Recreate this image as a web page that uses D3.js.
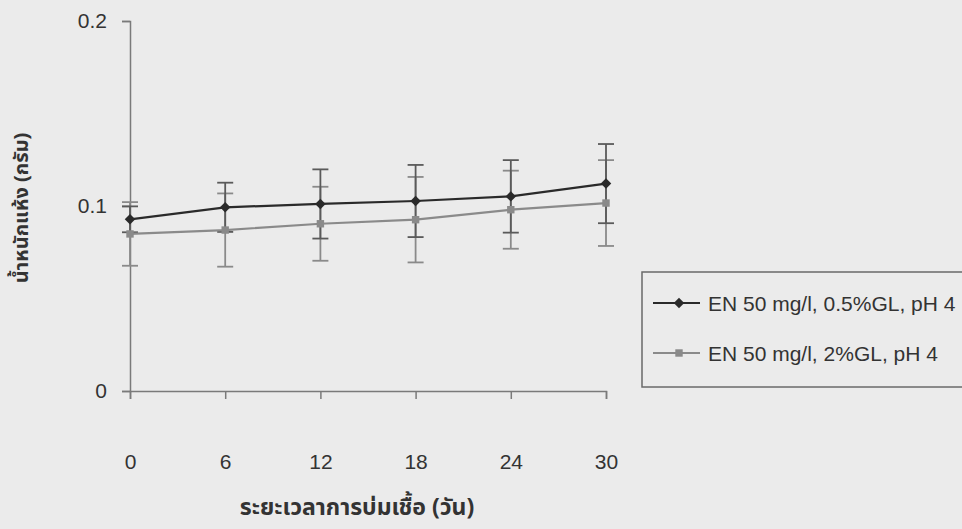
<!DOCTYPE html>
<html>
<head>
<meta charset="utf-8">
<script src="https://cdn.jsdelivr.net/npm/d3@7"></script>
<style>
  body { margin: 0; background: #ebebeb; }
  svg { display: block; }
  text { font-family: Arial, "Liberation Sans", sans-serif; fill: #333; }
</style>
</head>
<body>
<svg id="chart" width="962" height="529"></svg>
<script>
// incubation days
let days = [0, 6, 12, 18, 24, 30];

// dry weight (g), EN 50 mg/l, 0.5%GL, pH 4
let s1_mean = [0.0928, 0.0993, 0.1011, 0.1027, 0.1052, 0.1121];
let s1_err = [0.0070, 0.0133, 0.0187, 0.0195, 0.0196, 0.0214];

// dry weight (g), EN 50 mg/l, 2%GL, pH 4
let s2_mean = [0.0849, 0.0870, 0.0904, 0.0926, 0.0980, 0.1016];
let s2_err = [0.0172, 0.0198, 0.0200, 0.0231, 0.0211, 0.0232];

let y_ticks = [0, 0.1, 0.2];
let series_names = ["EN 50 mg/l, 0.5%GL, pH 4", "EN 50 mg/l, 2%GL, pH 4"];

let svg = d3.select("#chart");

let x = d3.scaleLinear().domain([0, 30]).range([130, 606]);
let y = d3.scaleLinear().domain([0, 0.2]).range([391, 21]);

let axis_color = "#7a7a7a";
let tick_font = "Arial, 'Liberation Sans', sans-serif";
let thai_font = "'Noto Sans Thai', 'Noto Sans', 'DejaVu Sans', sans-serif";

// axes
let yAxis = svg.append("g")
    .attr("transform", "translate(130,0)")
    .call(d3.axisLeft(y).tickValues(y_ticks).tickSize(8).tickPadding(15)
        .tickFormat(d => d === 0 ? "0" : d3.format(".1f")(d)));
let xAxis = svg.append("g")
    .attr("transform", "translate(0,391)")
    .call(d3.axisBottom(x).tickValues(days).tickSize(8).tickPadding(55));

[yAxis, xAxis].forEach(a => {
    a.select(".domain").attr("stroke", axis_color).attr("stroke-width", 1.5);
    a.selectAll(".tick line").attr("stroke", axis_color).attr("stroke-width", 1.5);
    a.selectAll(".tick text").attr("fill", "#3a3a3a")
        .style("font-size", "21px").style("font-family", tick_font);
});

// titles
svg.append("text")
    .attr("x", 357).attr("y", 515)
    .attr("text-anchor", "middle")
    .style("font-size", "23px").style("font-weight", "bold")
    .style("font-family", thai_font)
    .attr("fill", "#222")
    .text("ระยะเวลาการบ่มเชื้อ (วัน)");

svg.append("text")
    .attr("transform", "translate(28,208) rotate(-90)")
    .attr("text-anchor", "middle")
    .style("font-size", "20px").style("font-weight", "bold")
    .style("font-family", thai_font)
    .attr("fill", "#222")
    .text("น้ำหนักแห้ง (กรัม)");

let series = [
    {mean: s1_mean, err: s1_err, color: "#2a2a2a", errColor: "#5a5a5a", rot: 45, size: 55},
    {mean: s2_mean, err: s2_err, color: "#8a8a8a", errColor: "#8a8a8a", rot: 0, size: 55}
];

let line = d3.line()
    .x(d => x(d[0]))
    .y(d => y(d[1]));

function drawErrors(s) {
    let g = svg.append("g").attr("stroke", s.errColor).attr("stroke-width", 1.8);
    days.forEach((d, i) => {
        let cx = x(d);
        let top = y(s.mean[i] + s.err[i]);
        let bot = y(s.mean[i] - s.err[i]);
        g.append("line").attr("x1", cx).attr("x2", cx).attr("y1", top).attr("y2", bot);
        g.append("line").attr("x1", cx - 8).attr("x2", cx + 8).attr("y1", top).attr("y2", top);
        g.append("line").attr("x1", cx - 8).attr("x2", cx + 8).attr("y1", bot).attr("y2", bot);
    });
}

series.slice().reverse().forEach(drawErrors);

series.slice().reverse().forEach(s => {
    let pts = days.map((d, i) => [d, s.mean[i]]);
    svg.append("path")
        .datum(pts)
        .attr("d", line)
        .attr("fill", "none")
        .attr("stroke", s.color)
        .attr("stroke-width", 2.2);
    svg.selectAll(null)
        .data(pts)
        .enter()
        .append("path")
        .attr("d", d3.symbol().type(d3.symbolSquare).size(s.size))
        .attr("transform", d => `translate(${x(d[0])},${y(d[1])}) rotate(${s.rot})`)
        .attr("fill", s.color);
});

// legend
let legend = svg.append("g");
legend.append("rect")
    .attr("x", 642).attr("y", 272)
    .attr("width", 340).attr("height", 115)
    .attr("fill", "#ebebeb")
    .attr("stroke", "#6a6a6a").attr("stroke-width", 1.5);

series.forEach((s, i) => {
    let ly = 303 + i * 50;
    legend.append("line")
        .attr("x1", 653).attr("x2", 700).attr("y1", ly).attr("y2", ly)
        .attr("stroke", s.color).attr("stroke-width", 2.2);
    legend.append("path")
        .attr("d", d3.symbol().type(d3.symbolSquare).size(s.size))
        .attr("transform", `translate(679,${ly}) rotate(${s.rot})`)
        .attr("fill", s.color);
    legend.append("text")
        .attr("x", 708).attr("y", ly + 8)
        .style("font-size", "21px")
        .attr("fill", "#333")
        .text(series_names[i]);
});
</script>
</body>
</html>
